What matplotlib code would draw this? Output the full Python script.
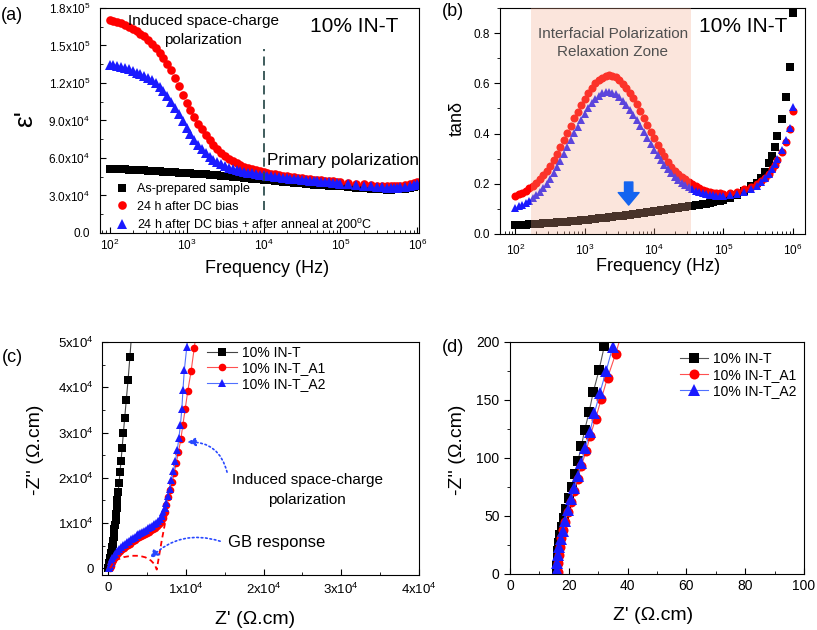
import numpy as np
import matplotlib
matplotlib.use('Agg')
import matplotlib.pyplot as plt
from matplotlib.ticker import MultipleLocator, LogLocator, NullFormatter

plt.rcParams['font.family'] = ['Liberation Sans', 'DejaVu Sans']
plt.rcParams['mathtext.fontset'] = 'custom'
plt.rcParams['mathtext.rm'] = 'Liberation Sans'
plt.rcParams['mathtext.it'] = 'Liberation Sans:italic'
plt.rcParams['mathtext.default'] = 'regular'

# frequency sweep (Hz)
freq = [100, 112, 126, 141, 158, 178, 200, 224, 251, 282,
        316, 355, 398, 447, 501, 562, 631, 708, 794, 891,
        1000, 1122, 1259, 1413, 1585, 1778, 1995, 2239, 2512, 2818,
        3162, 3548, 3981, 4467, 5012, 5623, 6310, 7079, 7943, 8913,
        10000, 11220, 12589, 14125, 15849, 17783, 19953, 22387, 25119, 28184,
        31623, 35481, 39811, 44668, 50119, 56234, 63096, 70795, 79433, 89125,
        100000, 125893, 158489, 199526, 250000, 300000, 350000, 400000, 450000, 500000,
        550000, 600000, 700000, 800000, 900000, 1000000]

# (a) eps' in units of 1e3
eps_asprep = [51.2, 51.1, 51, 50.9, 50.8, 50.65, 50.5, 50.35, 50.2, 50.05,
              49.9, 49.7, 49.5, 49.3, 49.1, 48.9, 48.7, 48.5, 48.3, 48.1,
              47.9, 47.7, 47.5, 47.3, 47.1, 46.9, 46.7, 46.5, 46.2, 45.9,
              45.6, 45.3, 45, 44.7, 44.4, 44.1, 43.8, 43.5, 43.2, 42.9,
              42.6, 42.3, 42, 41.7, 41.4, 41.1, 40.8, 40.5, 40.2, 39.9,
              39.6, 39.3, 39, 38.7, 38.5, 38.3, 38.1, 37.9, 37.7, 37.5,
              37.3, 36.8, 36.3, 35.8, 35.3, 35, 34.8, 34.7, 34.7, 34.8,
              34.9, 35.1, 35.5, 36, 36.6, 37.2]
eps_dc = [170, 169.3, 168.5, 167.6, 166.5, 165.1, 163.5, 161.6, 159.5, 157.2,
          154.5, 151.4, 148, 144.2, 140, 135.5, 130.5, 124.3, 117.5, 110.7,
          104, 98, 92.5, 87.5, 83, 78.5, 74.5, 70.5, 67, 64,
          61.5, 59.5, 57.5, 56, 54.5, 53, 52, 51, 50.3, 49.3,
          48.5, 47.9, 47.3, 46.8, 46.3, 45.8, 45.4, 45, 44.6, 44.2,
          43.8, 43.4, 43, 42.7, 42.4, 42.1, 41.8, 41.5, 41.2, 40.9,
          40.6, 40, 39.4, 38.8, 38.3, 37.9, 37.6, 37.4, 37.3, 37.3,
          37.4, 37.6, 38.1, 38.8, 39.6, 40.4]
eps_anneal = [134.5, 134, 133.5, 132.8, 132, 130.8, 129.5, 128.3, 127, 125.6,
              124, 122.1, 120, 117, 113.5, 109.3, 104.5, 99.8, 95, 89.5,
              84, 79, 74.5, 70.5, 67, 64, 61, 58.5, 56.5, 55,
              53.5, 52.3, 51.3, 50.4, 49.6, 48.9, 48.3, 47.7, 47.2, 46.7,
              46.2, 45.8, 45.4, 45, 44.6, 44.2, 43.8, 43.4, 43.1, 42.8,
              42.5, 42.2, 41.9, 41.6, 41.3, 41, 40.7, 40.4, 40.1, 39.8,
              39.5, 38.9, 38.3, 37.7, 37.2, 36.8, 36.5, 36.3, 36.2, 36.2,
              36.3, 36.5, 37, 37.6, 38.3, 39]

# (b) tan delta
tan_asprep = [0.035, 0.0355, 0.036, 0.037, 0.038, 0.039, 0.040, 0.041, 0.042, 0.043,
              0.044, 0.045, 0.046, 0.047, 0.048, 0.049, 0.050, 0.0515, 0.053, 0.0545,
              0.056, 0.057, 0.059, 0.060, 0.062, 0.063, 0.065, 0.066, 0.068, 0.070,
              0.071, 0.073, 0.075, 0.077, 0.079, 0.081, 0.083, 0.085, 0.087, 0.089,
              0.091, 0.093, 0.095, 0.097, 0.099, 0.101, 0.103, 0.105, 0.107, 0.109,
              0.111, 0.113, 0.115, 0.117, 0.119, 0.121, 0.124, 0.127, 0.130, 0.133,
              0.137, 0.145, 0.157, 0.172, 0.190, 0.205, 0.222, 0.248, 0.281, 0.312,
              0.348, 0.391, 0.456, 0.547, 0.666, 0.882]
tan_dc = [0.153, 0.158, 0.165, 0.173, 0.183, 0.193, 0.205, 0.218, 0.233, 0.251,
          0.272, 0.295, 0.320, 0.347, 0.375, 0.403, 0.432, 0.460, 0.487, 0.513,
          0.538, 0.562, 0.582, 0.600, 0.613, 0.623, 0.630, 0.632, 0.630, 0.624,
          0.613, 0.599, 0.582, 0.562, 0.540, 0.516, 0.490, 0.463, 0.436, 0.408,
          0.382, 0.356, 0.332, 0.309, 0.288, 0.268, 0.251, 0.238, 0.228, 0.218,
          0.208, 0.198, 0.190, 0.183, 0.177, 0.172, 0.168, 0.165, 0.163, 0.162,
          0.161, 0.163, 0.168, 0.178, 0.188, 0.200, 0.212, 0.224, 0.240, 0.258,
          0.275, 0.295, 0.328, 0.367, 0.420, 0.490]
tan_anneal = [0.105, 0.110, 0.117, 0.124, 0.133, 0.143, 0.155, 0.168, 0.183, 0.200,
              0.220, 0.242, 0.265, 0.291, 0.318, 0.346, 0.374, 0.401, 0.428, 0.453,
              0.478, 0.502, 0.522, 0.539, 0.551, 0.560, 0.565, 0.566, 0.563, 0.556,
              0.545, 0.531, 0.514, 0.495, 0.474, 0.452, 0.429, 0.405, 0.381, 0.357,
              0.335, 0.313, 0.293, 0.274, 0.257, 0.242, 0.228, 0.216, 0.205, 0.195,
              0.187, 0.179, 0.173, 0.167, 0.163, 0.159, 0.156, 0.154, 0.153, 0.152,
              0.152, 0.155, 0.160, 0.168, 0.180, 0.193, 0.206, 0.222, 0.240, 0.260,
              0.280, 0.300, 0.334, 0.374, 0.423, 0.507]

# (c) Nyquist, full scale
c_int_zr = [0, 50, 100, 150, 210, 270, 330, 390, 450, 510, 570, 630, 690, 750, 810, 880,
            950, 1020, 1100, 1190, 1290, 1400, 1520, 1650, 1800, 1950, 2130, 2330, 2560, 2800, 3050]
c_int_zi = [0, 400, 800, 1200, 1700, 2200, 2800, 3400, 4000, 4700, 5400, 6100, 6900, 7700, 8600, 9600,
            10700, 12000, 13400, 15000, 16900, 18900, 21200, 23700, 26600, 29800, 33300, 37200, 41600, 46800, 52500]
c_a1_zr = [250, 300, 400, 500, 650, 800, 1000, 1250, 1500, 1750, 2000, 2250, 2500, 2750, 3000, 3250,
           3500, 3750, 4000, 4250, 4500, 4750, 5000, 5250, 5500, 5750, 6000, 6250, 6500, 6750, 7000, 7250,
           7460, 7760, 7980, 8240, 8490, 8750, 9050, 9350, 9610, 9910, 10250, 10680, 11070, 11500]
c_a1_zi = [0, 400, 900, 1350, 1850, 2300, 2800, 3300, 3750, 4150, 4500, 4850, 5150, 5450, 5750, 6050,
           6300, 6600, 6850, 7100, 7350, 7600, 7850, 8100, 8400, 8700, 9000, 9350, 9750, 10200, 11000, 12400,
           14000, 15780, 17260, 18960, 20950, 23160, 25730, 28470, 31640, 35180, 39220, 43650, 48600, 54000]
c_a2_zr = [150, 200, 300, 400, 550, 700, 900, 1150, 1400, 1650, 1900, 2150, 2400, 2650, 2900, 3150,
           3400, 3650, 3900, 4150, 4400, 4650, 4900, 5150, 5400, 5650, 5900, 6150, 6400, 6650, 6900,
           7100, 7300, 7500, 7700, 7920, 8150, 8400, 8650, 8900, 9100, 9300, 9480, 9620, 9800, 10120, 10400]
c_a2_zi = [0, 500, 1100, 1650, 2200, 2700, 3200, 3750, 4250, 4700, 5100, 5450, 5800, 6100, 6400, 6700,
           7000, 7300, 7550, 7800, 8050, 8300, 8550, 8800, 9100, 9400, 9700, 10050, 10450, 10950, 11600,
           12400, 13300, 14500, 16000, 17600, 19400, 21400, 23700, 26200, 28800, 31700, 35200, 39300, 43800, 48900, 54000]
# GB guide (dashed)
gb_zr = [250, 600, 1200, 2000, 3000, 4000, 4800, 5500, 6000, 6250, 6900, 7600]
gb_zi = [0, 1100, 1900, 2450, 2750, 2750, 2400, 1700, 800, -300, 6200, 12500]

# (d) Nyquist, high-frequency zoom
d_int_zr = [16.0, 16.1, 16.2, 16.4, 16.7, 17.0, 17.6, 18.4, 19.2, 20.0, 21.0, 22.0, 23.1, 24.3, 25.4, 26.9, 28.3, 30.3, 32.1, 34.0]
d_int_zi = [1.1, 6.9, 13.5, 20.1, 26.4, 33.6, 40.8, 48.0, 56.3, 65.2, 75.3, 85.9, 97.4, 110.3, 124.1, 139.4, 156.6, 175.9, 196.6, 220]
d_a1_zr = [16.2, 16.3, 16.6, 16.9, 17.3, 18.0, 18.8, 19.7, 20.6, 21.9, 23.0, 24.3, 25.9, 27.3, 29.1, 31.0, 33.2, 35.9, 38.5]
d_a1_zi = [2.0, 9.2, 16.4, 23.5, 30.8, 37.9, 45.1, 53.7, 62.4, 71.6, 81.9, 93.4, 106.0, 119.2, 133.6, 150.6, 169.3, 189.4, 212]
d_a2_zr = [16.0, 16.1, 16.4, 16.8, 17.3, 18.1, 18.8, 19.7, 20.7, 21.9, 23.0, 24.3, 25.6, 27.2, 28.7, 30.6, 32.7, 34.9, 37.2]
d_a2_zi = [3.4, 9.7, 16.4, 23.0, 29.9, 37.3, 45.9, 55.2, 64.4, 73.9, 84.5, 95.9, 108.9, 122.7, 138.5, 156.3, 175.0, 195.4, 217]

a_yticks = [0, 30000, 60000, 90000, 120000, 150000, 180000]
a_ylabels = ['0.0', '3.0x10$^4$', '6.0x10$^4$', '9.0x10$^4$', '1.2x10$^5$', '1.5x10$^5$', '1.8x10$^5$']
c_ticks = [0, 10000, 20000, 30000, 40000]
c_xlabels = ['0', '1x10$^4$', '2x10$^4$', '3x10$^4$', '4x10$^4$']
c_yticks = [0, 10000, 20000, 30000, 40000, 50000]
c_ylabels = ['0', '1x10$^4$', '2x10$^4$', '3x10$^4$', '4x10$^4$', '5x10$^4$']

RED = '#ff0000'
BLUE = '#1a1aff'

fig = plt.figure(figsize=(8.17, 6.3), dpi=100)

# ---------------- (a)
ax = fig.add_axes([0.1224, 0.6302, 0.3905, 0.3571])
ax.plot(freq, np.array(eps_asprep) * 1e3, 's', color='k', ms=5.2, mew=0, label='As-prepared sample')
ax.plot(freq, np.array(eps_dc) * 1e3, 'o', color=RED, ms=6.2, mew=0, label='24 h after DC bias')
ax.plot(freq, np.array(eps_anneal) * 1e3, '^', color=BLUE, ms=6.5, mew=0,
        label='24 h after DC bias + after anneal at 200$^{o}$C')
ax.set_xscale('log')
ax.set_xlim(75, 1.05e6)
ax.set_ylim(0, 1.8e5)
ax.set_yticks(a_yticks, a_ylabels)
ax.yaxis.set_minor_locator(MultipleLocator(15000))
ax.xaxis.set_minor_locator(LogLocator(subs=np.arange(2, 10)))
ax.xaxis.set_minor_formatter(NullFormatter())
ax.tick_params(which='both', direction='in', labelsize=8.5)
ax.tick_params(axis='y', which='both', pad=7)
ax.tick_params(which='major', length=4)
ax.tick_params(which='minor', length=2.5)
ax.axvline(1e4, ymin=0.102, ymax=0.818, color='#2f4f4f', ls=(0, (5, 3)), lw=1.3)
ax.set_xlabel('Frequency (Hz)', fontsize=13, va='center')
ax.xaxis.set_label_coords(0.523, -0.156)
ax.set_ylabel("ε'", fontsize=19, va='center')
ax.yaxis.set_label_coords(-0.235, 0.507)
ax.text(0.323, 0.9, 'Induced space-charge\npolarization', transform=ax.transAxes,
        ha='center', va='center', fontsize=11, linespacing=1.5)
ax.text(0.796, 0.916, '10% IN-T', transform=ax.transAxes, ha='center', va='center', fontsize=15)
ax.text(0.524, 0.32, 'Primary polarization', transform=ax.transAxes, ha='left', va='center', fontsize=12.3)
ax.legend(loc='lower left', bbox_to_anchor=(0.049, 0.005), frameon=False, fontsize=9,
          handlelength=1.0, handletextpad=0.7, labelspacing=0.42, borderpad=0, borderaxespad=0)

# ---------------- (b)
ax = fig.add_axes([0.6120, 0.6286, 0.3733, 0.3587])
ax.plot(freq, tan_asprep, 's', color='k', ms=5.2, mew=0)
ax.plot(freq, tan_dc, 'o', color=RED, ms=5.8, mew=0)
ax.plot(freq, tan_anneal, '^', color=BLUE, ms=6.2, mew=0)
ax.axvspan(170, 3.4e4, color='#f5aa8c', alpha=0.3, lw=0, zorder=5)
ax.set_xscale('log')
ax.set_xlim(60, 1.5e6)
ax.set_ylim(0, 0.9)
ax.set_yticks([0.0, 0.2, 0.4, 0.6, 0.8])
ax.yaxis.set_minor_locator(MultipleLocator(0.1))
ax.xaxis.set_minor_locator(LogLocator(subs=np.arange(2, 10)))
ax.xaxis.set_minor_formatter(NullFormatter())
ax.tick_params(axis='x', which='both', direction='in', labelsize=8.5, pad=6)
ax.tick_params(axis='y', which='both', direction='out', labelsize=8.5)
ax.tick_params(which='major', length=4)
ax.tick_params(which='minor', length=2.5)
ax.set_xlabel('Frequency (Hz)', fontsize=13, va='center')
ax.xaxis.set_label_coords(0.518, -0.146)
ax.set_ylabel('tanδ', fontsize=13, va='center')
ax.yaxis.set_label_coords(-0.141, 0.513)
ax.text(0.370, 0.845, 'Interfacial Polarization\nRelaxation Zone', transform=ax.transAxes,
        ha='center', va='center', fontsize=11, linespacing=1.4, color='#505050', zorder=6)
ax.text(0.797, 0.92, '10% IN-T', transform=ax.transAxes, ha='center', va='center', fontsize=15, zorder=6)
ax.annotate('', xy=(4300, 0.115), xytext=(4300, 0.207),
            arrowprops=dict(arrowstyle='simple,head_length=0.6,head_width=1.0,tail_width=0.4',
                            color='#1464f0', mutation_scale=15, shrinkA=0, shrinkB=0), zorder=6)

# ---------------- (c)
ax = fig.add_axes([0.1248, 0.0873, 0.3880, 0.3698])
ax.plot(c_int_zr, c_int_zi, '-s', color='#444444', lw=0.8, ms=5.2, mfc='k', mec='k', mew=0, label='10% IN-T')
ax.plot(c_a1_zr, c_a1_zi, '-o', color='#ff5050', lw=0.8, ms=5.5, mfc=RED, mec=RED, mew=0, label='10% IN-T_A1')
ax.plot(c_a2_zr, c_a2_zi, '-^', color='#5070ff', lw=0.8, ms=6, mfc=BLUE, mec=BLUE, mew=0, label='10% IN-T_A2')
ax.plot(gb_zr, gb_zi, '--', color=RED, lw=1.3, dashes=(3, 2))
ax.set_xlim(-800, 40000)
ax.set_ylim(-1500, 50000)
ax.set_xticks(c_ticks, c_xlabels)
ax.set_yticks(c_yticks, c_ylabels)
ax.xaxis.set_minor_locator(MultipleLocator(5000))
ax.yaxis.set_minor_locator(MultipleLocator(5000))
ax.tick_params(which='both', direction='in', labelsize=9.5)
ax.tick_params(axis='y', which='both', pad=6)
ax.tick_params(axis='x', which='both', pad=5)
ax.tick_params(which='major', length=4)
ax.tick_params(which='minor', length=2.5)
ax.set_xlabel("Z' (Ω.cm)", fontsize=14, va='center')
ax.xaxis.set_label_coords(0.483, -0.19)
ax.set_ylabel("-Z'' (Ω.cm)", fontsize=14, va='center')
ax.yaxis.set_label_coords(-0.211, 0.536)
ax.text(25600, 17300, 'Induced space-charge\npolarization', ha='center', va='center', fontsize=11, linespacing=1.55)
ax.text(15440, 5750, 'GB response', ha='left', va='center', fontsize=12)
arrow_kw = dict(arrowstyle='-|>,head_length=0.5,head_width=0.25', color='#2848ff', lw=1.2,
                linestyle=':', shrinkA=0, shrinkB=0)
ax.annotate('', xy=(10170, 27880), xytext=(15300, 21240),
            arrowprops=dict(connectionstyle='arc3,rad=0.4', **arrow_kw))
ax.annotate('', xy=(5400, 2210), xytext=(14410, 5970),
            arrowprops=dict(connectionstyle='arc3,rad=0.3', **arrow_kw))
ax.legend(loc='upper left', bbox_to_anchor=(0.331, 0.985), frameon=False, fontsize=10,
          handlelength=2.2, handletextpad=0.35, labelspacing=0.12, borderpad=0, borderaxespad=0)

# ---------------- (d)
ax = fig.add_axes([0.6242, 0.0889, 0.3599, 0.3683])
ax.plot(d_int_zr, d_int_zi, '-s', color='#555555', lw=0.8, ms=6.8, mfc='k', mec='k', mew=0, label='10% IN-T')
ax.plot(d_a1_zr, d_a1_zi, '-o', color='#ff5050', lw=0.8, ms=7.2, mfc=RED, mec=RED, mew=0, label='10% IN-T_A1')
ax.plot(d_a2_zr, d_a2_zi, '-^', color='#5070ff', lw=0.8, ms=8, mfc=BLUE, mec=BLUE, mew=0, label='10% IN-T_A2')
ax.set_xlim(0, 100)
ax.set_ylim(0, 200)
ax.xaxis.set_major_locator(MultipleLocator(20))
ax.xaxis.set_minor_locator(MultipleLocator(10))
ax.yaxis.set_major_locator(MultipleLocator(50))
ax.yaxis.set_minor_locator(MultipleLocator(25))
ax.tick_params(axis='x', which='both', direction='in', labelsize=10)
ax.tick_params(axis='y', which='both', direction='out', labelsize=10)
ax.tick_params(which='major', length=4)
ax.tick_params(which='minor', length=2.5)
ax.set_xlabel("Z' (Ω.cm)", fontsize=14, va='center')
ax.xaxis.set_label_coords(0.486, -0.177)
ax.set_ylabel("-Z'' (Ω.cm)", fontsize=14, va='center')
ax.yaxis.set_label_coords(-0.18, 0.534)
ax.legend(loc='upper left', bbox_to_anchor=(0.578, 0.957), frameon=False, fontsize=10,
          handlelength=2.0, handletextpad=0.35, labelspacing=0.15, borderpad=0, borderaxespad=0)

# panel letters
fig.text(12 / 817, 1 - 15 / 630, '(a)', ha='center', va='center', fontsize=13)
fig.text(453 / 817, 1 - 12 / 630, '(b)', ha='center', va='center', fontsize=13)
fig.text(12 / 817, 1 - 357 / 630, '(c)', ha='center', va='center', fontsize=13)
fig.text(453 / 817, 1 - 347 / 630, '(d)', ha='center', va='center', fontsize=13)

fig.savefig('out.png', dpi=100)
